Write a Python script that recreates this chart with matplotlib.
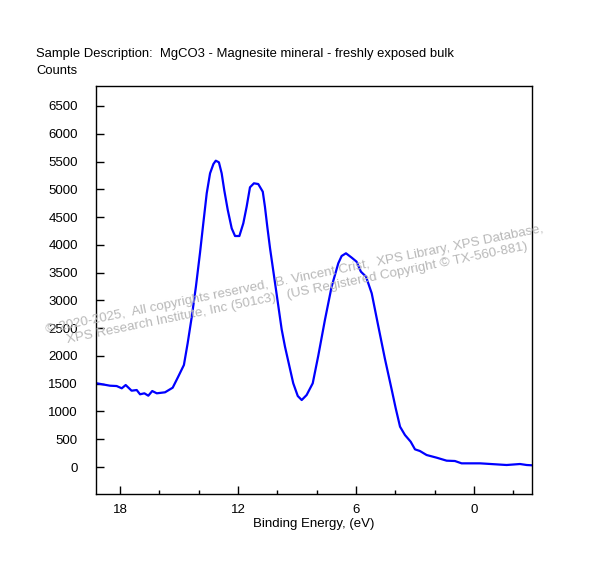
import matplotlib
matplotlib.use("Agg")
import matplotlib.pyplot as plt
from matplotlib.ticker import MultipleLocator

plt.rcParams['font.family'] = ['Liberation Sans', 'DejaVu Sans']

binding_energy = [19.18, 18.51, 18.17, 17.91, 17.71, 17.41, 17.15, 16.98, 16.76, 16.56,
                  16.36, 16.13, 15.71, 15.32, 15.04, 14.75, 14.56, 14.35, 14.14, 13.93,
                  13.76, 13.59, 13.42, 13.25, 13.13, 12.97, 12.83, 12.70, 12.52, 12.32,
                  12.15, 11.93, 11.73, 11.56, 11.39, 11.19, 10.97, 10.74, 10.63, 10.51,
                  10.37, 10.03, 9.78, 9.61, 9.19, 8.96, 8.76, 8.51, 8.20, 7.92,
                  7.58, 7.24, 6.90, 6.73, 6.51, 6.22, 5.97, 5.75, 5.49, 5.20,
                  4.86, 4.53, 4.18, 3.98, 3.76, 3.51, 3.22, 3.00, 2.75, 2.41,
                  1.90, 1.39, 0.97, 0.63, -0.31, -1.66, -2.34, -2.68, -2.99]
counts = [1507, 1464, 1458, 1417, 1476, 1374, 1386, 1309, 1327, 1284,
          1368, 1327, 1345, 1428, 1626, 1837, 2227, 2706, 3246, 3860,
          4400, 4928, 5288, 5455, 5515, 5486, 5288, 4987, 4627, 4297,
          4159, 4159, 4387, 4687, 5036, 5108, 5095, 4957, 4687, 4327,
          3937, 3100, 2480, 2166, 1507, 1278, 1206, 1296, 1507, 2000,
          2647, 3246, 3668, 3799, 3848, 3770, 3697, 3517, 3427, 3127,
          2526, 1950, 1386, 1057, 726, 576, 456, 318, 288, 216,
          168, 114, 108, 66, 66, 36, 54, 36, 30]

x_major = [18, 12, 6, 0]
y_ticks = list(range(0, 7000, 500))

title_text = "Sample Description:  MgCO3 - Magnesite mineral - freshly exposed bulk"
ylabel_text = "Counts"
xlabel_text = "Binding Energy, (eV)"
watermark = ("\u00a9 2020-2025,  All copyrights reserved,  B. Vincent Crist,  XPS Library, XPS Database,\n"
             "XPS Research Institute, Inc (501c3)   (US Registered Copyright \u00a9 TX-560-881)")

fig = plt.figure(figsize=(5.89, 5.68), dpi=100)
ax = fig.add_axes([96/589, 1-494/568, (532-96)/589, (494-86)/568])

ax.plot(binding_energy, counts, color='#0000ff', lw=1.6, zorder=2)

ax.set_xlim(19.22, -2.95)
ax.set_ylim(-486, 6860)
ax.set_xticks(x_major)
ax.xaxis.set_minor_locator(MultipleLocator(2))
ax.set_yticks(y_ticks)

for s in ax.spines.values():
    s.set_linewidth(1.0)
    s.set_color('black')

ax.tick_params(axis='x', which='major', direction='in', length=6, width=1, labelsize=9.5, pad=7, top=False)
ax.tick_params(axis='x', which='minor', direction='in', length=3, width=1, top=False)
ax.tick_params(axis='y', which='major', direction='in', length=6, width=1, labelsize=9.5, pad=13, right=False)

ax.set_xlabel(xlabel_text, fontsize=9.5, labelpad=2)

fig.text(36/589, 1-54/568, title_text, fontsize=9.4, ha='left', va='center')
fig.text(36/589, 1-71/568, ylabel_text, fontsize=9.4, ha='left', va='center')

fig.text(296/589, 1-286/568, watermark, fontsize=9.6, color='#b8b8b8', ha='center', va='center',
         rotation=11.5, rotation_mode='anchor', multialignment='center', zorder=5)

fig.savefig("out.png", dpi=100)
